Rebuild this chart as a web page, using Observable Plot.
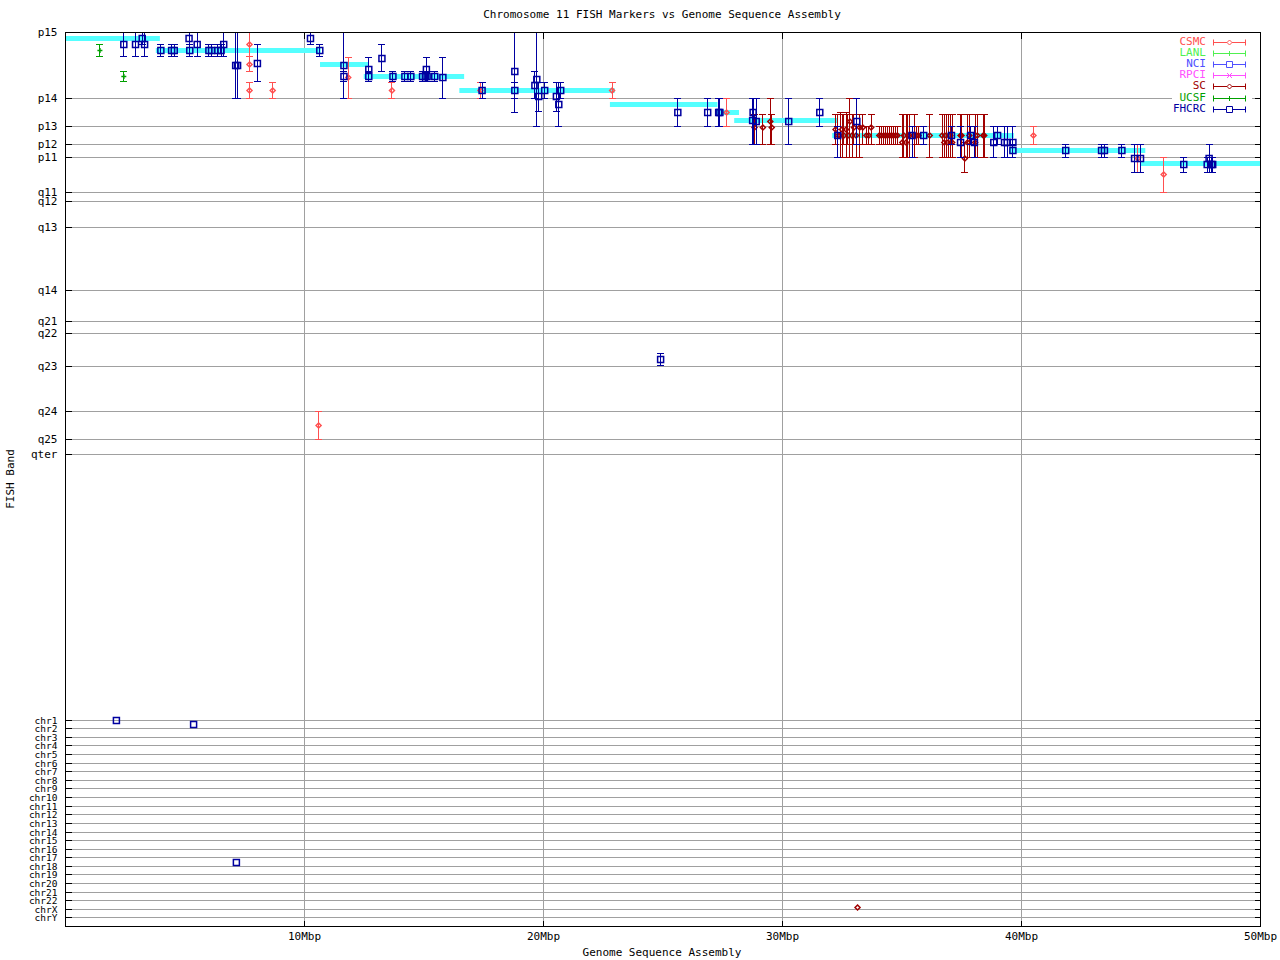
<!DOCTYPE html>
<html><head><meta charset="utf-8">
<script src="https://cdn.jsdelivr.net/npm/d3@7"></script>
<script src="https://cdn.jsdelivr.net/npm/@observablehq/plot@0.6"></script>
<style>body{margin:0;background:#fff}#chart{width:1280px;height:960px}</style>
</head><body><div id="chart"></div>
<script>
// ---------- tick labels / positions (band coordinate, top = 0) ----------
const bandLabels = ["p15","p14","p13","p12","p11","q11","q12","q13","q14","q21","q22","q23","q24","q25","qter"];
const bandPos    = [0,66,94,112,125,160,169,195,258,289,301,334,379,407,422];
const chrLabels  = ["chr1","chr2","chr3","chr4","chr5","chr6","chr7","chr8","chr9","chr10","chr11","chr12","chr13","chr14","chr15","chr16","chr17","chr18","chr19","chr20","chr21","chr22","chrX","chrY"];
const chrPos     = [688,696,705,713,722,731,739,748,756,765,774,782,791,800,808,817,825,834,842,851,860,868,877,885];
const xTicks     = [10,20,30,40,50];

// ---------- sequence assembly band segments (Mbp start, end, band) ----------
const asmStart = [0, 3.8, 10.67, 12.5, 16.5, 22.8, 27.2, 28.0, 32.1, 39.5, 45.0];
const asmEnd   = [3.97, 10.7, 12.68, 16.7, 23.0, 27.3, 28.2, 32.3, 39.7, 45.2, 50];
const asmBand  = [6, 18, 32, 44, 58, 72, 80, 88, 103, 118, 131];

// ---------- FISH markers: [Mbp, band, band low, band high] ----------
const csmc = [
 [7.70,12,0,24],[7.70,32,24,39],[7.70,58,50,66],[8.67,58,50,66],[10.59,393,379,407],
 [11.83,45,25,66],[13.66,58,50,66],[17.36,58,50,66],[22.87,58,50,66],[27.66,80,66,94],
 [40.50,103,94,112],[44.87,126,112,140],[45.95,142,125,160]
];
const ucsf = [[1.44,18,12,24],[2.44,44,39,49]];
const sc = [
 [28.83,95,82,112],[29.18,95,82,112],[29.49,89,66,112],[29.55,95,82,112],
 [32.22,97,82,112],[32.32,103,82,125],[32.41,103,80,125],[32.49,97,82,125],[32.57,103,82,112],
 [32.66,97,80,125],[32.74,103,82,112],[32.82,89,66,125],[32.91,103,82,125],[32.99,95,82,112],
 [33.08,103,82,125],[33.23,95,82,125],[33.36,95,82,112],[33.51,103,94,112],[33.61,103,94,112],
 [33.71,95,82,112],[34.05,103,94,112],[34.13,103,94,112],[34.23,103,94,112],[34.31,103,94,112],
 [34.39,103,94,112],[34.48,103,94,112],[34.56,103,94,112],[34.64,103,94,112],[34.73,103,94,112],
 [34.81,103,94,112],[35.01,110,82,125],[35.08,103,82,125],[35.17,110,82,125],[35.25,103,82,125],
 [35.33,103,82,125],[35.52,103,82,125],[35.61,103,94,112],[35.69,103,94,112],[36.16,103,82,125],
 [36.68,103,82,125],[36.77,110,82,125],[36.85,103,82,125],[36.93,110,82,125],[37.02,103,82,125],
 [37.10,110,82,125],[37.45,103,82,125],[37.49,103,82,125],[37.63,126,110,140],[37.74,110,82,125],
 [37.82,103,82,125],[38.06,110,82,125],[38.15,103,82,125],[38.40,103,82,125],[38.44,103,82,125],
 [33.14,875,875,875]
];
const fhcrc = [
 [2.44,12,0,24],[2.93,12,0,24],[3.21,6,0,12],[3.31,12,0,24],[3.99,18,12,24],[4.44,18,12,24],
 [4.55,18,12,24],[5.17,6,0,12],[5.20,18,12,24],[5.51,12,0,24],[6.00,18,12,24],[6.11,18,12,24],
 [6.37,18,12,24],[6.51,18,12,24],[6.62,12,0,24],[7.12,33,0,66],[7.20,33,0,66],[8.03,31,12,49],
 [10.25,6,0,12],[10.64,18,12,24],[11.65,33,0,66],[11.65,44,39,49],[12.69,37,25,49],[12.69,44,39,49],
 [13.24,26,12,39],[13.70,44,39,49],[14.20,44,39,49],[14.45,44,39,49],[14.94,44,39,49],[15.06,44,39,49],
 [15.10,37,25,49],[15.13,44,39,49],[15.45,44,39,49],[15.79,45,25,66],[17.43,58,50,66],[18.80,39,0,80],
 [18.80,58,50,66],[19.64,53,39,66],[19.72,47,0,94],[19.80,64,50,79],[20.05,58,50,66],[20.54,64,50,79],
 [20.64,72,50,94],[20.72,58,50,66],[24.90,327,321,333],[25.62,80,66,94],[26.87,80,66,94],
 [27.33,80,66,94],[27.38,80,66,94],[28.75,88,66,112],[28.77,80,66,112],[28.90,89,66,112],
 [30.26,89,66,112],[31.56,80,66,94],[32.31,103,94,125],[33.11,89,66,112],[35.42,103,94,125],
 [35.91,103,94,112],[37.07,103,94,112],[37.45,110,94,125],[37.87,103,94,112],[38.03,110,94,125],
 [38.84,110,94,125],[39.00,103,94,112],[39.29,110,94,125],[39.40,110,94,125],[39.64,110,94,125],
 [39.64,118,112,125],[41.85,118,112,125],[43.35,118,112,125],[43.47,118,112,125],[44.20,118,112,125],
 [44.73,126,112,140],[44.98,126,112,140],[46.79,132,125,140],[47.77,132,125,140],[47.85,126,112,140],
 [47.95,132,125,140],[48.00,132,125,140],
 [2.13,688,688,688],[5.36,692,692,692],[7.15,830,830,830]
];

// ---------- legend ----------
const legendNames  = ["CSMC","LANL","NCI","RPCI","SC","UCSF","FHCRC"];
const legendColors = ["#ff5050","#50f050","#5050ff","#ff50ff","#a00000","#00a000","#0000a0"];
const legendSyms   = ["diamond","plus","square","cross","diamond","plus","square"];

// ---------- helpers ----------
const font = "'DejaVu Sans Mono', 'Liberation Mono', monospace";
const W = 1280, H = 960, mL = 65, mR = 20, mT = 32, mB = 34;
const toRows = a => a.map(([x,y,lo,hi]) => ({x,y,lo,hi}));
const symPaths = {
  cap:     {draw(c){c.moveTo(-3.5,0);c.lineTo(3.5,0);}},
  hTick:   {draw(c){c.moveTo(-3,0);c.lineTo(3,0);}},
  vTick:   {draw(c){c.moveTo(0,-3);c.lineTo(0,3);}},
  square:  {draw(c){c.moveTo(-3,-3);c.lineTo(3,-3);c.lineTo(3,3);c.lineTo(-3,3);c.closePath();}},
  diamond: {draw(c){c.moveTo(0,-2.5);c.lineTo(2.5,0);c.lineTo(0,2.5);c.lineTo(-2.5,0);c.closePath();}},
  plus:    {draw(c){c.moveTo(-2.5,0);c.lineTo(2.5,0);c.moveTo(0,-2.5);c.lineTo(0,2.5);}},
  cross:   {draw(c){c.moveTo(-2.5,-2.5);c.lineTo(2.5,2.5);c.moveTo(-2.5,2.5);c.lineTo(2.5,-2.5);}}
};
function seriesMarks(data, color, sym) {
  const rows = toRows(data);
  const bars = rows.filter(d => d.hi > d.lo);
  return [
    Plot.ruleX(bars, {x:"x", y1:"lo", y2:"hi", stroke:color, shapeRendering:"crispEdges"}),
    Plot.dot(bars, {x:"x", y:"lo", symbol:symPaths.cap, r:1, stroke:color, fill:"none", shapeRendering:"crispEdges"}),
    Plot.dot(bars, {x:"x", y:"hi", symbol:symPaths.cap, r:1, stroke:color, fill:"none", shapeRendering:"crispEdges"}),
    Plot.dot(rows, {x:"x", y:"y", symbol:symPaths[sym], r:1, stroke:color, fill:"none"})
  ];
}

const allPos = bandPos.concat(chrPos);
const allLab = bandLabels.concat(chrLabels);
const labMap = new Map(allPos.map((p,i) => [p, allLab[i]]));
const asmRows = asmStart.map((s,i) => ({x1:s, x2:asmEnd[i], y:asmBand[i]}));

const chart = Plot.plot({
  width: W, height: H,
  marginLeft: mL, marginRight: mR, marginTop: mT, marginBottom: mB,
  style: {fontFamily: font, fontSize: "11px", background: "white", color: "black"},
  x: {domain: [0, 50], range: [mL, W - mR]},
  y: {domain: [0, 894], range: [mT, H - mB]},
  marks: [
    // grid
    Plot.ruleY(allPos.filter(p => p > 0), {y: d => d, stroke: "#a0a0a0", shapeRendering: "crispEdges"}),
    Plot.ruleX([10,20,30,40], {x: d => d, stroke: "#a0a0a0", shapeRendering: "crispEdges"}),
    // assembly segments
    Plot.ruleY(asmRows, {y:"y", x1:"x1", x2:"x2", stroke:"#55ffff", strokeWidth:5}),
    // series in legend order
    ...seriesMarks(csmc, legendColors[0], "diamond"),
    ...seriesMarks(sc, legendColors[4], "diamond"),
    ...seriesMarks(ucsf, legendColors[5], "plus"),
    ...seriesMarks(fhcrc, legendColors[6], "square"),
    // frame & inward ticks
    Plot.frame({stroke: "black", shapeRendering: "crispEdges"}),
    Plot.dot(allPos, {x: 0, y: d => d, symbol: symPaths.hTick, r:1, dx: 3, stroke: "black", shapeRendering: "crispEdges"}),
    Plot.dot(allPos, {x: 50, y: d => d, symbol: symPaths.hTick, r:1, dx: -3, stroke: "black", shapeRendering: "crispEdges"}),
    Plot.dot(xTicks, {x: d => d, y: 0, symbol: symPaths.vTick, r:1, dy: 3, stroke: "black", shapeRendering: "crispEdges"}),
    Plot.dot(xTicks, {x: d => d, y: 894, symbol: symPaths.vTick, r:1, dy: -3, stroke: "black", shapeRendering: "crispEdges"}),
    // axes
    Plot.axisY(bandPos, {tickSize: 0, tickPadding: 8, tickFormat: d => labMap.get(d), label: null, fontSize: 11}),
    Plot.axisY(chrPos, {tickSize: 0, tickPadding: 8, tickFormat: d => labMap.get(d), label: null, fontSize: 9.5}),
    Plot.axisX(xTicks, {tickSize: 0, tickPadding: 6, tickFormat: d => d + "Mbp", label: null, fontSize: 11})
  ]
});
document.getElementById("chart").appendChild(chart);

// ---------- titles & legend ----------
const svg = d3.select(chart);
const txt = (x, y, s, anchor, extra) => {
  const t = svg.append("text").attr("x", x).attr("y", y).attr("text-anchor", anchor)
    .attr("dominant-baseline", "middle").attr("font-family", font).attr("font-size", 11).attr("fill", "black").text(s);
  if (extra) extra(t);
  return t;
};
txt(662, 15, "Chromosome 11 FISH Markers vs Genome Sequence Assembly", "middle");
txt(662, 953, "Genome Sequence Assembly", "middle");
txt(0, 0, "FISH Band", "middle", t => t.attr("transform", "translate(11,479) rotate(-90)"));

const lg = svg.append("g");
lg.append("rect").attr("x", 1172).attr("y", 36).attr("width", 80).attr("height", 78).attr("fill", "white");
legendNames.forEach((name, i) => {
  const y = 42 + i * 11.1, c = legendColors[i];
  lg.append("text").attr("x", 1206).attr("y", y).attr("text-anchor", "end").attr("dominant-baseline", "middle")
    .attr("font-family", font).attr("font-size", 11).attr("fill", c).text(name);
  const yy = Math.round(y) + 0.5;
  lg.append("path").attr("d", `M1213,${yy}H1246M1213.5,${yy-3}V${yy+3}M1245.5,${yy-3}V${yy+3}`)
    .attr("stroke", c).attr("fill", "none");
  const p = d3.path(); symPaths[legendSyms[i]].draw(p);
  lg.append("path").attr("d", p.toString()).attr("transform", `translate(1229.5,${yy})`)
    .attr("stroke", c).attr("fill", "white");
});
</script></body></html>
